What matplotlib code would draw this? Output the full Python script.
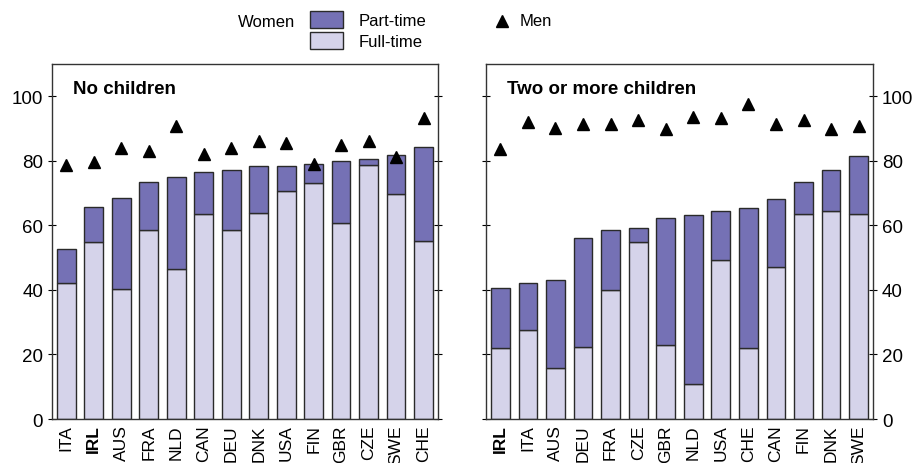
import numpy as np
import matplotlib.pyplot as plt
from matplotlib.patches import Rectangle
from matplotlib.lines import Line2D

plt.rcParams['font.family'] = ['Liberation Sans', 'DejaVu Sans']

# No children
c1 = ["ITA", "IRL", "AUS", "FRA", "NLD", "CAN", "DEU", "DNK", "USA", "FIN", "GBR", "CZE", "SWE", "CHE"]
full1 = [42.1, 54.7, 40.4, 58.7, 46.4, 63.4, 58.7, 63.8, 70.5, 73.0, 60.8, 78.7, 69.7, 55.3]
total1 = [52.8, 65.7, 68.5, 73.3, 75.1, 76.5, 77.3, 78.5, 78.5, 79.1, 79.9, 80.6, 81.9, 84.2]
men1 = [78.6, 79.6, 84.1, 82.9, 90.7, 82.2, 84.1, 86.0, 85.6, 79.0, 84.9, 86.0, 81.2, 93.4]

# Two or more children
c2 = ["IRL", "ITA", "AUS", "DEU", "FRA", "CZE", "GBR", "NLD", "USA", "CHE", "CAN", "FIN", "DNK", "SWE"]
full2 = [21.9, 27.7, 15.7, 22.3, 40.1, 54.7, 23.0, 11.0, 49.3, 21.9, 47.1, 63.4, 64.5, 63.4]
total2 = [40.6, 42.2, 43.1, 56.2, 58.7, 59.2, 62.2, 63.2, 64.4, 65.4, 68.1, 73.3, 77.0, 81.5]
men2 = [83.5, 92.0, 90.3, 91.5, 91.3, 92.6, 90.0, 93.6, 93.3, 97.5, 91.3, 92.7, 89.7, 90.7]

pt_color = "#7571b5"
ft_color = "#d5d3ea"
edge = "#2a2a2a"

fig = plt.figure(figsize=(9.16, 4.64), dpi=100)
ax1 = fig.add_axes([0.0568, 0.0948, 0.4212, 0.7652])
ax2 = fig.add_axes([0.5306, 0.0948, 0.4224, 0.7652])

def panel(ax, countries, full, total, men, title, right_labels):
    x = np.arange(len(countries))
    part = np.array(total) - np.array(full)
    ax.bar(x, full, width=0.68, color=ft_color, edgecolor=edge, linewidth=1)
    ax.bar(x, part, bottom=full, width=0.68, color=pt_color, edgecolor=edge, linewidth=1)
    ax.plot(x, men, linestyle="none", marker="^", markersize=9, color="black")
    ax.set_xlim(-0.52, len(countries) - 0.48)
    ax.set_ylim(0, 110)
    ax.set_yticks([0, 20, 40, 60, 80, 100])
    ax.set_xticks(x)
    ax.set_xticklabels(countries, rotation=90, fontsize=12.5)
    for lab in ax.get_xticklabels():
        if lab.get_text() == "IRL":
            lab.set_fontweight("bold")
    ax.tick_params(axis="x", length=0, pad=4)
    ax.tick_params(axis="y", direction="inout", length=6, labelsize=13.5, width=0.8,
                   left=True, right=True, labelleft=not right_labels, labelright=right_labels)
    for s in ax.spines.values():
        s.set_color("#333333")
        s.set_linewidth(1)
    ax.text(0.054, 0.932, title, transform=ax.transAxes, fontsize=13.5, fontweight="bold",
            va="center", ha="left")

panel(ax1, c1, full1, total1, men1, "No children", False)
panel(ax2, c2, full2, total2, men2, "Two or more children", True)

# legend
fig.text(0.26, 0.952, "Women", fontsize=12, ha="left", va="center")
fig.add_artist(Rectangle((0.3384, 0.9375), 0.036, 0.0366, transform=fig.transFigure,
                         facecolor=pt_color, edgecolor=edge, linewidth=1))
fig.add_artist(Rectangle((0.3384, 0.892), 0.036, 0.0366, transform=fig.transFigure,
                         facecolor=ft_color, edgecolor=edge, linewidth=1))
fig.text(0.392, 0.954, "Part-time", fontsize=12, ha="left", va="center")
fig.text(0.392, 0.908, "Full-time", fontsize=12, ha="left", va="center")
fig.add_artist(Line2D([0.548], [0.953], transform=fig.transFigure, linestyle="none",
                      marker="^", markersize=8.5, color="black"))
fig.text(0.567, 0.954, "Men", fontsize=12, ha="left", va="center")

fig.savefig("out.png", dpi=100)
